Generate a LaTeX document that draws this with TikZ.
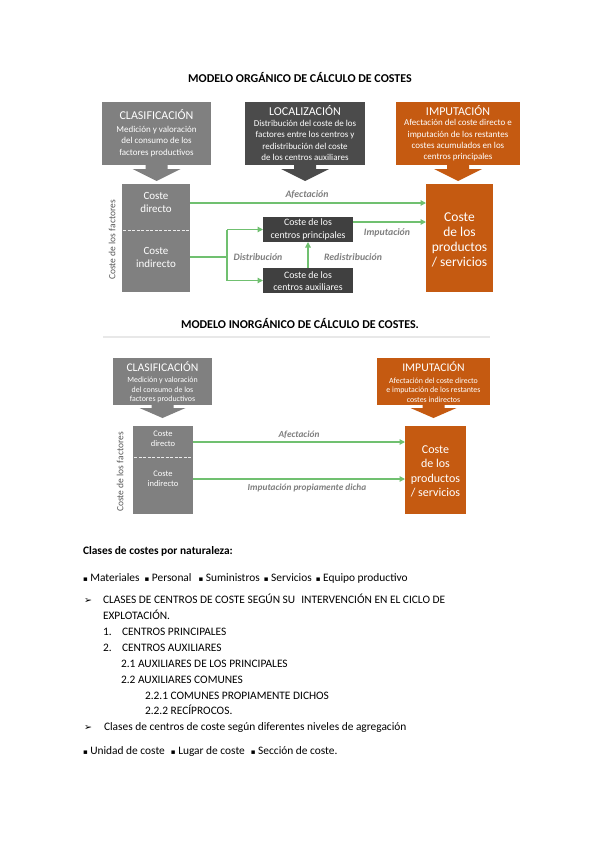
\documentclass[tikz,border=0pt]{standalone}
\usepackage{fontspec}
\setmainfont{Carlito}
\newfontfamily\symf{DejaVu Sans}
\usetikzlibrary{arrows.meta}
\definecolor{cgray}{HTML}{808080}
\definecolor{cdark}{HTML}{4B4B4B}
\definecolor{cdarkb}{HTML}{404040}
\definecolor{corange}{HTML}{C55A11}
\definecolor{cgreen}{HTML}{70C070}
\definecolor{clabel}{HTML}{7F7F7F}
\definecolor{cside}{HTML}{595959}
\definecolor{crule}{HTML}{E8E8E8}
\newcommand{\sqb}{{\symf\fontsize{7}{8}\selectfont ▪}}
\newcommand{\arrb}{{\symf\fontsize{9.5}{10}\selectfont ➢}}
\begin{document}
\begin{tikzpicture}[x=1pt,y=-1pt,
  every node/.style={inner sep=0pt,outer sep=0pt},
  boxnode/.style={anchor=north west,draw=none},
  ttl/.style={text=white,font=\fontsize{12}{14}\selectfont},
  ttlb/.style={text=white,font=\fontsize{11.7}{13}\selectfont},
  dsc/.style={text=white,align=center,font=\fontsize{9}{11.3}\selectfont},
  dscb/.style={text=white,align=center,font=\fontsize{7.9}{9.3}\selectfont},
  wtxt/.style={text=white,align=center,font=\fontsize{11}{13}\selectfont},
  wtxts/.style={text=white,align=center,font=\fontsize{8.5}{10}\selectfont},
  otxt/.style={text=white,align=center,font=\fontsize{13.5}{15}\selectfont},
  otxtb/.style={text=white,align=center,font=\fontsize{12}{14.5}\selectfont},
  ctxt/.style={text=white,align=center,font=\fontsize{9.8}{12.5}\selectfont},
  lab/.style={text=clabel,font=\fontsize{9.8}{11}\selectfont\bfseries\itshape},
  labs/.style={text=clabel,font=\fontsize{9.3}{11}\selectfont\bfseries\itshape},
  side/.style={text=cside,rotate=90,font=\fontsize{9.5}{11}\selectfont},
  garr/.style={draw=cgreen,line width=1.2pt,-{Triangle[length=5.5pt,width=5.5pt]}},
  gline/.style={draw=cgreen,line width=1.2pt},
  sep/.style={draw=white!85!cgray,line width=1pt,dash pattern=on 3pt off 1.5pt},
  head/.style={font=\fontsize{12}{14}\selectfont\bfseries},
  body/.style={anchor=base west,font=\fontsize{11.4}{13}\selectfont}
]
\useasboundingbox[fill=white] (0,0) rectangle (599,848);

% ---------- Title 1
\node[head] (t1) at (300,78) {MODELO ORGÁNICO DE CÁLCULO DE COSTES};

% ---------- Top boxes
\node[boxnode,fill=cgray,minimum width=109pt,minimum height=63pt] (clas) at (102,102) {};
\fill[cgray] ([xshift=-11pt]clas.south) -- ++(22,0) -- ++(0,4) -- ++(13,0) -- ++(-24,12) -- ++(-24,-12) -- ++(13,0) -- cycle;
\node[ttl] (clast) at (156.5,115) {CLASIFICACIÓN};
\node[dsc] (clasd) at (156.5,141.5) {Medición y valoración\\del consumo de los\\factores productivos};

\node[boxnode,fill=cdark,minimum width=120pt,minimum height=63pt] (loc) at (245,102) {};
\fill[cdark] ([xshift=-11pt]loc.south) -- ++(22,0) -- ++(0,4) -- ++(13,0) -- ++(-24,12) -- ++(-24,-12) -- ++(13,0) -- cycle;
\node[ttl] (loct) at (305,111) {LOCALIZACIÓN};
\node[dsc] (locd) at (305,140.5) {Distribución del coste de los\\factores entre los centros y\\redistribución del coste\\de los centros auxiliares};

\node[boxnode,fill=corange,minimum width=124pt,minimum height=63pt] (imp) at (396,102) {};
\fill[corange] ([xshift=-11pt]imp.south) -- ++(22,0) -- ++(0,4) -- ++(13,0) -- ++(-24,12) -- ++(-24,-12) -- ++(13,0) -- cycle;
\node[ttl] (impt) at (458,111) {IMPUTACIÓN};
\node[dsc] (impd) at (458,140.5) {Afectación del coste directo e\\imputación de los restantes\\costes acumulados en los\\centros principales};

% ---------- Lower part diagram 1
\node[side] (sidea) at (112,240) {Coste de los factores};
\node[boxnode,fill=cgray,minimum width=68pt,minimum height=108pt] (coste) at (122,184) {};
\draw[sep] (123,230) -- (189,230);
\node[wtxt] (cdir) at (156,202) {Coste\\directo};
\node[wtxt] (cind) at (156,257) {Coste\\indirecto};

\node[boxnode,fill=corange,minimum width=67pt,minimum height=108pt] (prod) at (426,184) {};
\node[otxt] (prodt) at (459.5,239.5) {Coste\\de los\\productos\\/ servicios};

\node[boxnode,fill=cdarkb,minimum width=90pt,minimum height=25pt] (cp) at (263,217) {};
\node[ctxt] (cpt) at (308,229.5) {Coste de los\\centros principales};
\node[boxnode,fill=cdarkb,minimum width=90pt,minimum height=25pt] (ca) at (263,268) {};
\node[ctxt] (cat) at (308,281) {Coste de los\\centros auxiliares};

\coordinate (ya) at (0,203);
\coordinate (yi) at (0,257);
\coordinate (jn) at (227,257);
\coordinate (jt) at (227,229.5);
\coordinate (jb) at (227,280.5);
\coordinate (yp) at (0,222);

\draw[garr] (coste.east |- ya) -- (prod.west |- ya);
\draw[gline] (coste.east |- yi) -- (jn);
\draw[gline] (jt) -- (jb);
\draw[garr] (jt) -- (cp.west |- jt);
\draw[garr] (jb) -- (ca.west |- jb);
\draw[garr] (cp.east |- yp) -- (prod.west |- yp);
\draw[garr] (ca.north) -- (cp.south);

\node[lab] (la) at (307,195) {Afectación};
\node[lab] (ld) at (258,257) {Distribución};
\node[lab] (lr) at (353,257) {Redistribución};
\node[lab] (li) at (387,233) {Imputación};

% ---------- Title 2
\node[head] (t2) at (300,324) {MODELO INORGÁNICO DE CÁLCULO DE COSTES.};
\draw[crule,line width=1.5pt] (103,337) -- (490,337);

\node[boxnode,fill=cgray,minimum width=99pt,minimum height=47pt] (clas2) at (113,358) {};
\fill[cgray] ([xshift=-11pt]clas2.south) -- ++(22,0) -- ++(0,3) -- ++(12,0) -- ++(-23,10) -- ++(-23,-10) -- ++(12,0) -- cycle;
\node[ttlb] (clas2t) at (162.5,367) {CLASIFICACIÓN};
\node[dscb] (clas2d) at (162.5,390) {Medición y valoración\\del consumo de los\\factores productivos};

\node[boxnode,fill=corange,minimum width=113pt,minimum height=47pt] (imp2) at (377,358) {};
\fill[corange] ([xshift=-11pt]imp2.south) -- ++(22,0) -- ++(0,3) -- ++(12,0) -- ++(-23,10) -- ++(-23,-10) -- ++(12,0) -- cycle;
\node[ttlb] (imp2t) at (433.5,367) {IMPUTACIÓN};
\node[dscb] (imp2d) at (433.5,390) {Afectación del coste directo\\e imputación de los restantes\\costes indirectos};

\node[side] (sideb) at (120,472) {Coste de los factores};
\node[boxnode,fill=cgray,minimum width=60pt,minimum height=88pt] (coste2) at (133,426) {};
\draw[sep] (134,457) -- (192,457);
\node[wtxts] (cdir2) at (163,439) {Coste\\directo};
\node[wtxts] (cind2) at (163,479) {Coste\\indirecto};

\node[boxnode,fill=corange,minimum width=61pt,minimum height=88pt] (prod2) at (405,426) {};
\node[otxtb] (prod2t) at (435.5,471.5) {Coste\\de los\\productos\\/ servicios};

\coordinate (ya2) at (0,442);
\coordinate (yi2) at (0,479);
\draw[garr] (coste2.east |- ya2) -- (prod2.west |- ya2);
\draw[garr] (coste2.east |- yi2) -- (prod2.west |- yi2);
\node[labs] (la2) at (299,435) {Afectación};
\node[labs] (li2) at (307,488) {Imputación propiamente dicha};

% ---------- Text
\node[body,font=\fontsize{11.4}{13}\selectfont\bfseries] (p1) at (83,554) {Clases de costes por naturaleza:};
\node[body] (p2) at (83,581) {\sqb\ Materiales\hspace{5pt}\sqb\ Personal\hspace{7pt}\sqb\ Suministros\hspace{4pt}\sqb\ Servicios\hspace{4pt}\sqb\ Equipo productivo};
\node[body] (p3a) at (84,603) {\arrb};
\node[body] (p3) at (103,603) {CLASES DE CENTROS DE COSTE SEGÚN SU\hspace{6pt}INTERVENCIÓN EN EL CICLO DE};
\node[body] (p4) at (103,619) {EXPLOTACIÓN.};
\node[body] (p5a) at (103,635) {1.};
\node[body] (p5) at (122,635) {CENTROS PRINCIPALES};
\node[body] (p6a) at (103,651) {2.};
\node[body] (p6) at (122,651) {CENTROS AUXILIARES};
\node[body] (p7) at (121,667) {2.1 AUXILIARES DE LOS PRINCIPALES};
\node[body] (p8) at (121,683) {2.2 AUXILIARES COMUNES};
\node[body] (p9) at (145,699) {2.2.1 COMUNES PROPIAMENTE DICHOS};
\node[body] (p10) at (145,714) {2.2.2 RECÍPROCOS.};
\node[body] (p11a) at (84,730) {\arrb};
\node[body] (p11) at (104,730) {Clases de centros de coste según diferentes niveles de agregación};
\node[body] (p12) at (83,754) {\sqb\ Unidad de coste\hspace{6pt}\sqb\ Lugar de coste\hspace{6pt}\sqb\ Sección de coste.};
\end{tikzpicture}
\end{document}
